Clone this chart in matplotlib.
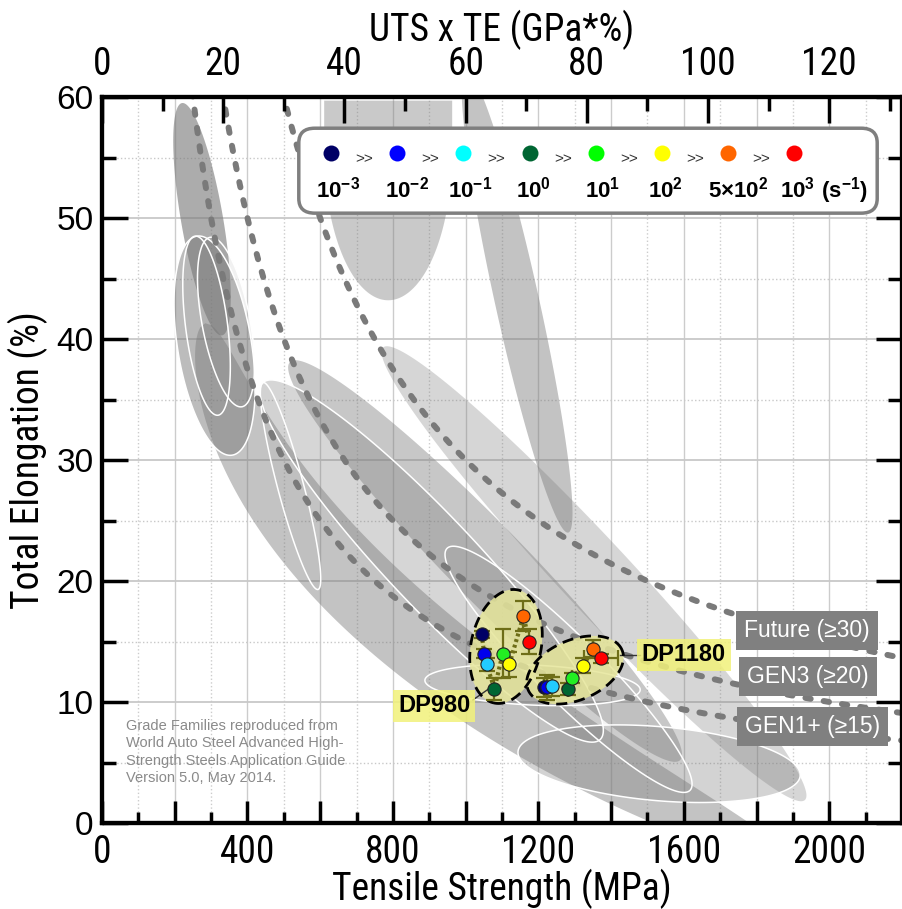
import numpy as np
import matplotlib.pyplot as plt
from matplotlib import font_manager as fm
from matplotlib.patches import Polygon, FancyBboxPatch

SANS = ['Liberation Sans', 'DejaVu Sans']
plt.rcParams['font.family'] = SANS
plt.rcParams['mathtext.fontset'] = 'custom'
plt.rcParams['mathtext.rm'] = 'Liberation Sans'
plt.rcParams['mathtext.bf'] = 'Liberation Sans:bold'

# pick a narrow face if one is installed, else shrink Liberation Sans
_names = {f.name for f in fm.fontManager.ttflist}
NARROW, NSCALE = SANS, 0.82
for cand in ['Liberation Sans Narrow', 'Arial Narrow', 'Roboto Condensed', 'Open Sans Condensed']:
    if cand in _names:
        NARROW, NSCALE = [cand, 'DejaVu Sans'], 1.0
        break

# strain rate legend
rate_labels = [r'$\mathbf{10^{-3}}$', r'$\mathbf{10^{-2}}$', r'$\mathbf{10^{-1}}$', r'$\mathbf{10^{0}}$',
               r'$\mathbf{10^{1}}$', r'$\mathbf{10^{2}}$', r'$\mathbf{5{\times}10^{2}}$',
               r'$\mathbf{10^{3}\ (s^{-1})}$']
legend_colors = ['#000066', '#0000ff', '#00ffff', '#006633', '#00ff00', '#ffff00', '#ff6600', '#ff0000']
point_colors = ['#000066', '#0000ee', '#22ccff', '#006633', '#22ee22', '#ffff00', '#ff6600', '#ff0000']

# DP980 / DP1180 measurements (UTS MPa, total elongation %)
dp980_uts = [1044, 1051, 1058, 1079, 1102, 1120, 1159, 1175]
dp980_te = [15.6, 14.0, 13.1, 11.1, 14.0, 13.1, 17.1, 15.0]
dp980_yerr = [0.3, 0.4, 0.5, 0.9, 2.0, 1.0, 1.25, 1.05]
dp1180_uts = [1216, 1223, 1237, 1281, 1292, 1324, 1349, 1372]
dp1180_te = [11.2, 11.2, 11.3, 11.1, 12.0, 13.0, 14.4, 13.6]
dp1180_yerr = [0.8, 1.0, 0.8, 0.5, 0.4, 0.6, 0.7, 0.4]
dp1180_xerr = [0, 0, 0, 0, 0, 0, 0, 47]

# grade families (ellipse long-axis ends in MPa / %, half width in px)
fam_x1 = [220, 256, 297, 261, 443, 443, 517, 773, 1001, 1144, 949, 888]
fam_y1 = [59.5, 48.5, 48.4, 48.5, 36.4, 36.4, 38.1, 39.3, 62.2, 5.9, 22.7, 11.8]
fam_x2 = [330, 319, 385, 358, 1370, 594, 1590, 1933, 1282, 1920, 1617, 1480]
fam_y2 = [40.3, 33.7, 34.4, 30.4, 6.9, 19.3, 5.2, 1.9, 24.0, 3.9, 2.7, 11.0]
fam_hw = [21, 21, 24, 37, 45, 13, 38, 35, 22, 37, 32, 20]
fam_alpha = [0.62, 0.05, 0.1, 0.5, 0.3, 0.04, 0.42, 0.3, 0.45, 0.33, 0.08, 0.05]
fam_outline = [False, True, True, True, True, True, False, False, False, True, True, True]

# main curved family band: start, bend, end (MPa, %), half width px
band_x = [284, 435, 1892]
band_y = [41.3, 16.8, -3.1]
band_hw = 40

# top-center family (rectangle + half ellipse)
twip_cx, twip_cy, twip_half_w, twip_bottom, twip_top = 787, 55.6, 176, 43.2, 59.7

# UTS x TE iso-lines (GPa*%)
iso_levels = [15, 20, 30]
iso_names = ['GEN1+ (\u226515)', 'GEN3 (\u226520)', 'Future (\u226530)']
iso_label_x = [1955, 1942, 1939]
iso_label_y = [8.0, 12.07, 15.9]

fig = plt.figure(figsize=(9.02, 9.09), dpi=100)
ax = fig.add_axes([102 / 902, 86 / 909, 800 / 902, 726 / 909])
ax.set_xlim(0, 2200)
ax.set_ylim(0, 60)

# grid
for xv in range(100, 2200, 100):
    ax.axvline(xv, color='#cccccc', lw=1.0, ls='-' if xv % 200 == 0 else ':', zorder=0)
for yv in range(5, 60, 5):
    ax.axhline(yv, color='#c8c8c8', lw=1.3 if yv % 10 == 0 else 1.0, ls='-' if yv % 10 == 0 else ':', zorder=0)


def ellipse_pts(x1, y1, x2, y2, hw, n=240):
    p1 = ax.transData.transform((x1, y1))
    p2 = ax.transData.transform((x2, y2))
    c = (p1 + p2) / 2
    d = p2 - p1
    a = np.hypot(*d) / 2
    u = d / np.hypot(*d)
    v = np.array([-u[1], u[0]])
    t = np.linspace(0, 2 * np.pi, n)
    pts = c + a * np.cos(t)[:, None] * u + hw * np.sin(t)[:, None] * v
    return ax.transData.inverted().transform(pts)


def banana_pts(xs, ys, hw, n=200):
    p = ax.transData.transform(np.column_stack([xs, ys]))
    s = np.linspace(0, 1, n)[:, None]
    c = (1 - s) ** 2 * p[0] + 2 * s * (1 - s) * p[1] + s ** 2 * p[2]
    d = 2 * (1 - s) * (p[1] - p[0]) + 2 * s * (p[2] - p[1])
    d = d / np.hypot(d[:, 0], d[:, 1])[:, None]
    nrm = np.column_stack([-d[:, 1], d[:, 0]])
    w = hw * 2 * np.sqrt(s * (1 - s))
    pts = np.vstack([c + w * nrm, (c - w * nrm)[::-1]])
    return ax.transData.inverted().transform(pts)


GRAY = '#7a7a7a'
ax.add_patch(Polygon(banana_pts(band_x, band_y, band_hw), closed=True, fc=GRAY, alpha=0.45,
                     ec='none', zorder=1))
for i in range(len(fam_x1)):
    pts = ellipse_pts(fam_x1[i], fam_y1[i], fam_x2[i], fam_y2[i], fam_hw[i])
    ax.add_patch(Polygon(pts, closed=True, fc=GRAY, alpha=fam_alpha[i], ec='none', zorder=1))
    if fam_outline[i]:
        ax.add_patch(Polygon(pts, closed=True, fc='none', ec='white', lw=1.1, zorder=1.5))

t = np.linspace(np.pi, 2 * np.pi, 120)
tw_x = twip_cx + twip_half_w * np.cos(t)
tw_y = twip_cy + (twip_cy - twip_bottom) * np.sin(t)
tw = np.column_stack([np.r_[tw_x, tw_x[-1], tw_x[0]], np.r_[tw_y, twip_top, twip_top]])
ax.add_patch(Polygon(tw, closed=True, fc=GRAY, alpha=0.4, ec='none', zorder=1))

# iso lines
for lev in iso_levels:
    xs = np.linspace(lev * 1000 / 62, 2200, 400)
    ax.plot(xs, lev * 1000 / xs, color='#7a7a7a', lw=4.3, ls=(0, (0.9, 2.2)),
            dash_capstyle='round', zorder=2)

for name, lx, ly in zip(iso_names, iso_label_x, iso_label_y):
    ax.text(lx, ly, name, fontsize=16.5, color='white', ha='center', va='center', zorder=8,
            bbox=dict(boxstyle='square,pad=0.35', fc='#808080', ec='none'))

# DP clusters
for (x1, y1, x2, y2, hw) in [(1144, 19.26, 1078, 9.92, 35), (1172, 10.99, 1430, 14.3, 30)]:
    pts = ellipse_pts(x1, y1, x2, y2, hw)
    ax.add_patch(Polygon(pts, closed=True, fc='#e6e69a', alpha=0.85, ec='none', zorder=3))
    ax.add_patch(Polygon(pts, closed=True, fc='none', ec='black', lw=2, ls=(0, (4, 2.5)), zorder=3.2))

olive = '#6e6e18'
for xs, ys in [(dp980_uts, dp980_te), (dp1180_uts, dp1180_te)]:
    ax.plot(xs, ys, color=olive, lw=3, ls=(0, (0.7, 0.7)), zorder=3.5)
ax.errorbar(dp980_uts, dp980_te, yerr=dp980_yerr, fmt='none', ecolor=olive,
            elinewidth=1.6, capsize=6, capthick=1.6, zorder=4)
ax.errorbar(dp1180_uts, dp1180_te, yerr=dp1180_yerr, xerr=dp1180_xerr, fmt='none', ecolor=olive,
            elinewidth=1.6, capsize=6, capthick=1.6, zorder=4)
for xs, ys in [(dp980_uts, dp980_te), (dp1180_uts, dp1180_te)]:
    for x, y, c in zip(xs, ys, point_colors):
        ax.plot(x, y, 'o', ms=9.5, mfc=c, mec='#222222', mew=0.8, zorder=5)

# labels for DP grades
ax.plot([1020, 1067], [10.17, 11.16], color='#333333', lw=1, zorder=3)
ax.plot([1425, 1480], [13.9, 13.9], color='#333333', lw=1, zorder=3)
ax.text(913, 9.67, 'DP980', fontsize=17, fontweight='bold', ha='center', va='center', zorder=6,
        bbox=dict(boxstyle='square,pad=0.2', fc='#f2f27a', ec='none', alpha=0.85))
ax.text(1600, 13.9, 'DP1180', fontsize=17, fontweight='bold', ha='center', va='center', zorder=6,
        bbox=dict(boxstyle='square,pad=0.2', fc='#f2f27a', ec='none', alpha=0.85))

ax.text(66, 8.6, 'Grade Families reproduced from\nWorld Auto Steel Advanced High-\n'
        'Strength Steels Application Guide\nVersion 5.0, May 2014.',
        fontsize=10.5, color='#8a8a8a', ha='left', va='top', linespacing=1.3, zorder=6)

# strain-rate legend box
ax.add_patch(FancyBboxPatch((0.246, 0.84), 0.723, 0.117, boxstyle='round,pad=0,rounding_size=0.02',
                            transform=ax.transAxes, fc='white', ec='#7f7f7f', lw=2.5, zorder=9))
lx0, ldx = 0.286, 0.0828
label_dx = [0.009, 0.012, 0.009, 0.005, 0.008, 0.004, 0.012, 0.037]
for i, (c, lab) in enumerate(zip(legend_colors, rate_labels)):
    x = lx0 + i * ldx
    ax.plot(x, 0.923, 'o', ms=11.5, mfc=c, mec='none', transform=ax.transAxes, zorder=10, clip_on=False)
    ax.text(x + label_dx[i], 0.862, lab, fontsize=16, ha='center', va='baseline',
            transform=ax.transAxes, zorder=10)
    if i < 7:
        ax.text(x + ldx / 2, 0.915, '>>', fontsize=11, color='#333333', ha='center', va='center',
                transform=ax.transAxes, zorder=10)

# axes styling
tick_fs = 27 * NSCALE
title_fs = 27 * NSCALE
ax.set_xticks(range(0, 2201, 200))
ax.set_xticklabels([str(v) if v % 400 == 0 and v < 2200 else '' for v in range(0, 2201, 200)],
                   family=NARROW, fontsize=tick_fs)
ax.set_xticks(range(100, 2200, 200), minor=True)
ax.set_yticks(range(0, 61, 10))
ax.set_yticklabels([str(v) for v in range(0, 61, 10)], fontsize=24)
ax.set_yticks(range(5, 60, 10), minor=True)
ax.tick_params(axis='x', which='major', direction='in', length=16, width=2.5, pad=8, top=False)
ax.tick_params(axis='x', which='minor', direction='in', length=8, width=2.5, top=False)
ax.tick_params(axis='y', which='major', direction='in', length=19, width=2.5, pad=6, right=True)
ax.tick_params(axis='y', which='minor', direction='in', length=10, width=2.5, right=True)
for s in ax.spines.values():
    s.set_linewidth(3)
ax.set_xlabel('Tensile Strength (MPa)', family=NARROW, fontsize=title_fs, labelpad=-2)
ax.set_ylabel('Total Elongation (%)', family=NARROW, fontsize=title_fs, labelpad=6)

ax2 = ax.twiny()
ax2.set_xlim(0, 132)
ax2.set_xticks(range(0, 121, 20))
ax2.set_xticklabels([str(v) for v in range(0, 121, 20)], family=NARROW, fontsize=tick_fs)
ax2.set_xticks(range(10, 131, 20), minor=True)
ax2.tick_params(axis='x', which='major', direction='in', length=19, width=2.5, pad=10)
ax2.tick_params(axis='x', which='minor', direction='in', length=10, width=2.5)
ax2.set_xlabel('UTS x TE (GPa*%)', family=NARROW, fontsize=title_fs, labelpad=4)
for s in ax2.spines.values():
    s.set_linewidth(3)

fig.savefig('out.png', dpi=100)
